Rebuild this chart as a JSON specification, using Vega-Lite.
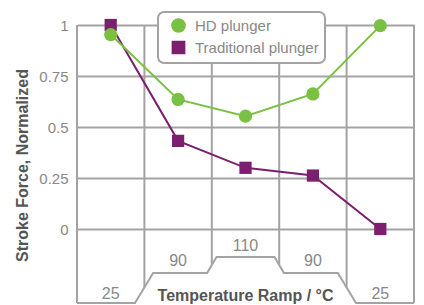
{
  "$schema": "https://vega.github.io/schema/vega-lite/v6.json",
  "width": 337,
  "height": 280,
  "autosize": {"type": "none"},
  "padding": {"left": 77, "top": 25, "right": 10, "bottom": 0},
  "config": {"view": {"stroke": null}, "font": "Liberation Sans"},
  "layer": [
    {
      "data": {"values": [
        {"x": 0.5, "top": 1, "end": -0.363},
        {"x": 1.5, "top": 1, "end": -0.287},
        {"x": 2.5, "top": 1, "end": -0.176},
        {"x": 3.5, "top": 1, "end": -0.176},
        {"x": 4.5, "top": 1, "end": -0.287},
        {"x": 5.5, "top": 1, "end": -0.363}
      ]},
      "mark": {"type": "rule", "color": "#a3a3a3", "strokeWidth": 2},
      "encoding": {
        "x": {"field": "x", "type": "quantitative", "scale": {"domain": [0.5, 5.5], "nice": false, "zero": false}, "axis": null},
        "y": {"field": "top", "type": "quantitative", "scale": {"domain": [-0.3725, 1], "nice": false, "zero": false},
          "axis": {"values": [0, 0.25, 0.5, 0.75, 1], "format": ".2~f", "grid": true, "gridColor": "#a3a3a3", "gridWidth": 2, "domain": false, "ticks": false,
            "labelFontSize": 15, "labelColor": "#888888", "labelPadding": 9,
            "title": "Stroke Force, Normalized", "titleFontSize": 16, "titleFontWeight": "bold", "titleColor": "#555555", "titlePadding": 8}},
        "y2": {"field": "end"}
      }
    },
    {
      "data": {"values": [
        {"x": 0.5, "temp": -0.363},
        {"x": 1.36, "temp": -0.363},
        {"x": 1.63, "temp": -0.216},
        {"x": 2.43, "temp": -0.216},
        {"x": 2.57, "temp": -0.137},
        {"x": 3.43, "temp": -0.137},
        {"x": 3.57, "temp": -0.216},
        {"x": 4.37, "temp": -0.216},
        {"x": 4.64, "temp": -0.363},
        {"x": 5.5, "temp": -0.363}
      ]},
      "mark": {"type": "line", "color": "#a3a3a3", "strokeWidth": 2},
      "encoding": {
        "x": {"field": "x", "type": "quantitative"},
        "y": {"field": "temp", "type": "quantitative"}
      }
    },
    {
      "data": {"values": [
        {"slot": 1, "pos": -0.319, "label": "25"},
        {"slot": 2, "pos": -0.159, "label": "90"},
        {"slot": 3, "pos": -0.083, "label": "110"},
        {"slot": 4, "pos": -0.159, "label": "90"},
        {"slot": 5, "pos": -0.319, "label": "25"}
      ]},
      "mark": {"type": "text", "fontSize": 16, "color": "#888888", "baseline": "middle"},
      "encoding": {
        "x": {"field": "slot", "type": "quantitative"},
        "y": {"field": "pos", "type": "quantitative"},
        "text": {"field": "label"}
      }
    },
    {
      "data": {"values": [{"slot": 3, "pos": -0.355, "label": "Temperature Ramp / °C"}]},
      "mark": {"type": "text", "fontSize": 16, "fontWeight": "bold", "color": "#555555", "baseline": "alphabetic"},
      "encoding": {
        "x": {"field": "slot", "type": "quantitative"},
        "y": {"field": "pos", "type": "quantitative"},
        "text": {"field": "label"}
      }
    },
    {
      "data": {"values": [
        {"slot": 1, "series": "Traditional plunger", "force": 1.0},
        {"slot": 2, "series": "Traditional plunger", "force": 0.432},
        {"slot": 3, "series": "Traditional plunger", "force": 0.3},
        {"slot": 4, "series": "Traditional plunger", "force": 0.262},
        {"slot": 5, "series": "Traditional plunger", "force": 0.0},
        {"slot": 1, "series": "HD plunger", "force": 0.953},
        {"slot": 2, "series": "HD plunger", "force": 0.635},
        {"slot": 3, "series": "HD plunger", "force": 0.553},
        {"slot": 4, "series": "HD plunger", "force": 0.662},
        {"slot": 5, "series": "HD plunger", "force": 0.997}
      ]},
      "layer": [
        {
          "mark": {"type": "line", "strokeWidth": 2},
          "encoding": {
            "x": {"field": "slot", "type": "quantitative"},
            "y": {"field": "force", "type": "quantitative"},
            "color": {"field": "series", "type": "nominal", "scale": {"domain": ["HD plunger", "Traditional plunger"], "range": ["#7ac143", "#7b1f6f"]}}
          }
        },
        {
          "mark": {"type": "point", "filled": true, "opacity": 1},
          "encoding": {
            "x": {"field": "slot", "type": "quantitative"},
            "y": {"field": "force", "type": "quantitative"},
            "size": {"field": "series", "type": "nominal", "scale": {"domain": ["HD plunger", "Traditional plunger"], "range": [175, 150]}, "legend": null},
            "color": {"field": "series", "type": "nominal",
              "legend": {"title": null, "orient": "none", "legendX": 81, "legendY": -13, "fillColor": "white", "strokeColor": "#a3a3a3", "cornerRadius": 6, "padding": 6, "symbolSize": 160, "symbolOffset": 7, "labelFontSize": 15, "labelColor": "#888888", "labelOffset": 9, "rowPadding": 2, "symbolOpacity": 1,
                "encode": {"legend": {"update": {"strokeWidth": {"value": 2}}}}}},
            "shape": {"field": "series", "type": "nominal", "scale": {"domain": ["HD plunger", "Traditional plunger"], "range": ["circle", "square"]},
              "legend": {"title": null, "orient": "none", "legendX": 81, "legendY": -13, "fillColor": "white", "strokeColor": "#a3a3a3", "cornerRadius": 6, "padding": 6, "symbolSize": 160, "symbolOffset": 7, "labelFontSize": 15, "labelColor": "#888888", "labelOffset": 9, "rowPadding": 2, "symbolOpacity": 1,
                "encode": {"legend": {"update": {"strokeWidth": {"value": 2}}}}}}
          }
        }
      ]
    }
  ]
}
